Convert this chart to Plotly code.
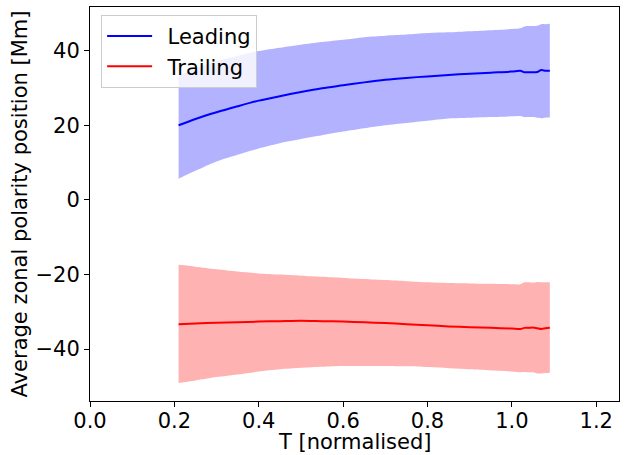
import plotly.graph_objects as go

# Normalised time
T = [0.21, 0.25, 0.30, 0.35, 0.40, 0.45, 0.50, 0.55, 0.60, 0.65, 0.70, 0.75, 0.80,
     0.85, 0.90, 0.95, 1.00, 1.02, 1.03, 1.04, 1.05, 1.06, 1.07, 1.08, 1.09]

# Leading polarity: mean and spread bounds [Mm]
leading_mean = [20.0, 21.7, 23.5, 25.1, 26.6, 27.8, 28.9, 29.9, 30.7, 31.5, 32.2, 32.7, 33.1,
                33.5, 33.8, 34.1, 34.4, 34.6, 34.2, 34.2, 34.2, 34.3, 34.8, 34.6, 34.6]
leading_upper = [33.2, 35.2, 37.2, 38.6, 39.9, 40.8, 41.6, 42.3, 42.9, 43.6, 44.0, 44.3, 44.7,
                 44.9, 45.2, 45.5, 45.8, 46.0, 46.5, 46.6, 46.6, 46.7, 47.1, 47.1, 47.2]
leading_lower = [5.7, 7.8, 10.3, 12.1, 13.8, 15.2, 16.3, 17.3, 18.3, 19.2, 20.0, 20.6, 21.2,
                 21.8, 22.0, 22.2, 22.4, 22.5, 22.2, 22.2, 22.2, 22.0, 21.9, 22.1, 22.1]

# Trailing polarity: mean and spread bounds [Mm]
trailing_mean = [-33.3, -33.1, -32.9, -32.8, -32.6, -32.5, -32.4, -32.5, -32.6, -32.8, -33.0, -33.3, -33.6,
                 -33.9, -34.1, -34.3, -34.5, -34.6, -34.3, -34.3, -34.2, -34.4, -34.6, -34.4, -34.3]
trailing_upper = [-17.4, -17.9, -18.6, -19.2, -19.7, -20.0, -20.3, -20.6, -20.9, -21.2, -21.5, -21.8, -22.1,
                  -22.3, -22.4, -22.5, -22.6, -22.6, -22.1, -22.1, -22.2, -22.0, -22.1, -22.1, -22.1]
trailing_lower = [-49.1, -48.4, -47.5, -46.8, -46.0, -45.4, -45.0, -44.7, -44.5, -44.5, -44.5, -44.6, -44.8,
                  -45.1, -45.4, -45.7, -46.0, -46.2, -46.1, -46.2, -46.2, -46.5, -46.5, -46.4, -46.3]

x_ticks = [0.0, 0.2, 0.4, 0.6, 0.8, 1.0, 1.2]
y_ticks = [-40, -20, 0, 20, 40]

FONT = "DejaVu Sans"
FS = 21

fig = go.Figure()

series = [
    ("Leading", leading_mean, leading_upper, leading_lower, "#0000ff", "rgba(0,0,255,0.3)"),
    ("Trailing", trailing_mean, trailing_upper, trailing_lower, "#ff0000", "rgba(255,0,0,0.3)"),
]

# Shaded spread bands (upper edge, then lower edge filled up to it)
for name, mean, upper, lower, color, fillc in series:
    fig.add_trace(go.Scatter(
        x=T, y=upper, mode="lines", line=dict(width=0, shape="spline", smoothing=0.8),
        showlegend=False, hoverinfo="skip",
    ))
    fig.add_trace(go.Scatter(
        x=T, y=lower, mode="lines", line=dict(width=0, shape="spline", smoothing=0.8),
        fill="tonexty", fillcolor=fillc, showlegend=False, hoverinfo="skip",
    ))

# Mean curves
for name, mean, upper, lower, color, fillc in series:
    fig.add_trace(go.Scatter(
        x=T, y=mean, mode="lines", name="\u2002" + name,
        line=dict(color=color, width=2, shape="spline", smoothing=0.8),
    ))

axis_common = dict(
    showgrid=False, zeroline=False, automargin=False,
    showline=True, linecolor="black", linewidth=1, mirror=True,
    ticks="outside", ticklen=5, tickwidth=1, tickcolor="black",
    tickfont=dict(family=FONT, size=FS, color="black"),
)

fig.update_layout(
    width=628, height=455,
    margin=dict(l=90, r=9, t=7, b=54),
    paper_bgcolor="white", plot_bgcolor="white",
    font=dict(family=FONT, size=FS, color="black"),
    xaxis=dict(range=[0, 1.254], tickvals=x_ticks,
               ticktext=[f"{v:.1f}" for v in x_ticks],
               ticklabelstandoff=-4,
               **axis_common),
    yaxis=dict(range=[-53.9, 51.7], tickvals=y_ticks,
               ticktext=[f"{v}".replace("-", "\u2212") for v in y_ticks],
               title=dict(text="Average zonal polarity position [Mm]",
                          font=dict(family=FONT, size=FS), standoff=2),
               **axis_common),
    legend=dict(x=0.021, y=0.98, xanchor="left", yanchor="top",
                bgcolor="rgba(255,255,255,0.8)", bordercolor="#cccccc", borderwidth=1,
                itemwidth=45, traceorder="normal",
                font=dict(family=FONT, size=FS)),
    annotations=[dict(text="T [normalised]", xref="paper", yref="paper",
                      x=0.5, y=-0.136, xanchor="center", yanchor="bottom",
                      borderpad=0,
                      showarrow=False, font=dict(family=FONT, size=FS, color="black"))],
)

fig.write_html("out.html")
